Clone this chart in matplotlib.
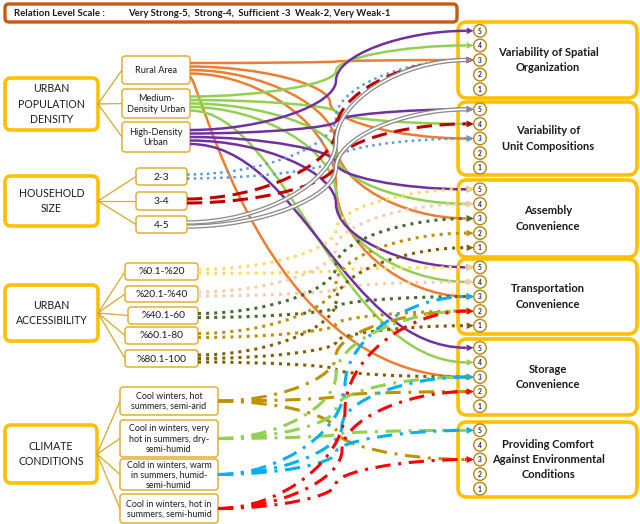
import matplotlib
matplotlib.use('Agg')
import matplotlib.pyplot as plt
from matplotlib.patches import FancyBboxPatch, PathPatch, Circle, Polygon
from matplotlib.path import Path

plt.rcParams['font.family'] = ['Lato', 'DejaVu Sans']

# ---------------------------------------------------------------- data
scale_title = 'Relation Level Scale :'
scale_text = 'Very Strong-5,  Strong-4,  Sufficient -3  Weak-2, Very Weak-1'

group_names = ['URBAN\nPOPULATION\nDENSITY', 'HOUSEHOLD\nSIZE',
               'URBAN\nACCESSIBILITY', 'CLIMATE\nCONDITIONS']
item_labels = [
    ['Rural Area', 'Medium-\nDensity Urban', 'High-Density\nUrban'],
    ['2-3', '3-4', '4-5'],
    ['%0.1-%20', '%20.1-%40', '%40.1-60', '%60.1-80', '%80.1-100'],
    ['Cool winters, hot\nsummers, semi-arid',
     'Cool in winters, very\nhot in summers, dry-\nsemi-humid',
     'Cold in winters, warm\nin summers, humid-\nsemi-humid',
     'Cool in winters, hot in\nsummers, semi-humid'],
]
target_names = ['Variability of Spatial\nOrganization', 'Variability of\nUnit Compositions',
                'Assembly\nConvenience', 'Transportation\nConvenience',
                'Storage\nConvenience', 'Providing Comfort\nAgainst Environmental\nConditions']
levels = [5, 4, 3, 2, 1]

# (target index, relation level) for every item, in item order
rural_area = [(0, 3), (1, 3), (2, 3), (3, 3), (4, 3)]
medium_density = [(0, 4), (1, 4), (2, 4), (3, 4), (4, 4)]
high_density = [(0, 5), (1, 5), (2, 5), (3, 5), (4, 5)]
size_2_3 = [(0, 3), (1, 3)]
size_3_4 = [(0, 3), (1, 4)]
size_4_5 = [(0, 3), (1, 5)]
access_0_20 = [(2, 5), (3, 5)]
access_20_40 = [(2, 4), (3, 4)]
access_40_60 = [(2, 3), (3, 3)]
access_60_80 = [(2, 2), (3, 2)]
access_80_100 = [(2, 1), (3, 1), (4, 3)]
cool_semi_arid = [(3, 2), (4, 2), (5, 3)]
very_hot_dry = [(3, 2), (4, 3), (5, 5)]
warm_humid = [(3, 3), (4, 3), (5, 5)]
hot_semi_humid = [(3, 2), (4, 2), (5, 3)]
relations = [rural_area, medium_density, high_density, size_2_3, size_3_4, size_4_5,
             access_0_20, access_20_40, access_40_60, access_60_80, access_80_100,
             cool_semi_arid, very_hot_dry, warm_humid, hot_semi_humid]

# ---------------------------------------------------------------- layout / style
group_boxes = [(5, 78, 98, 130), (5, 176, 98, 226), (5, 285, 98, 341), (5, 425, 97, 483)]
item_boxes = [
    [(122, 56, 190, 84), (122, 89, 190, 118), (122, 122, 190, 152)],
    [(136, 168, 187, 185), (136, 192, 187, 210), (136, 216, 187, 233)],
    [(125, 263, 198, 280), (125, 286, 198, 302), (128, 307, 198, 324),
     (125, 327, 198, 344), (125, 350, 198, 367)],
    [(120, 387, 218, 415), (120, 420, 218, 457), (120, 459, 218, 490), (120, 494, 218, 523)],
]
target_boxes = [(458, 22, 637, 98), (458, 102, 637, 175), (458, 180, 637, 257),
                (458, 259, 637, 334), (458, 339, 637, 415), (458, 422, 637, 497)]
circle_x, circle_r, level_gap = 480, 6.3, 14.6

dash_dot = (0, (5, 2.5, 1, 2.5))
styles = [
    dict(color='#ed7d31', lw=1.8, ls='-'),
    dict(color='#92d050', lw=1.8, ls='-'),
    dict(color='#7030a0', lw=1.8, ls='-'),
    dict(color='#5b9bd5', lw=1.8, ls=':'),
    dict(color='#c00000', lw=2.2, ls=(0, (5, 2.5))),
    dict(color='#8c8c8c', lw=3.2, ls='-', double=True),
    dict(color='#ffd966', lw=2.2, ls=':'),
    dict(color='#f8cbad', lw=2.2, ls=':'),
    dict(color='#4b6b2f', lw=2.2, ls=':'),
    dict(color='#bf9000', lw=2.2, ls=':'),
    dict(color='#7f6000', lw=2.2, ls=':'),
    dict(color='#bf9000', lw=2.2, ls=dash_dot),
    dict(color='#92d050', lw=2.2, ls=dash_dot),
    dict(color='#00b0f0', lw=2.2, ls=dash_dot),
    dict(color='#ff0000', lw=2.2, ls=dash_dot),
]
start_gap = [3.5, 3.5, 3.5, 4, 4, 4, 4, 4, 4, 4, 3.5, 0, 0, 0, 0]
# long arcs drawn as a single cubic with these control x's
arcs = {(0, 4): (200, 262), (1, 4): (285, 340), (2, 4): (300, 345)}
# x of the vertical "waist" of elbow curves
waist = {(0, 1): 330, (13, 3): 345, (14, 3): 345, (13, 4): 342, (14, 4): 342}
default_waist = 336

fig = plt.figure(figsize=(6.4, 5.24), dpi=100)
ax = fig.add_axes([0, 0, 1, 1])
ax.set_xlim(0, 640)
ax.set_ylim(524, 0)
ax.axis('off')


def draw_box(x0, y0, x1, y1, ec, lw, r, z=1):
    ax.add_patch(FancyBboxPatch((x0, y0), x1 - x0, y1 - y0,
                                boxstyle='round,pad=0,rounding_size=%s' % r,
                                ec=ec, fc='white', lw=lw, zorder=z))


def curve_path(sx, sy, ex, ey, key):
    if key in arcs:
        c1, c2 = arcs[key]
        return Path([(sx, sy), (c1, sy), (c2, ey), (ex, ey)],
                    [Path.MOVETO] + [Path.CURVE4] * 3)
    # curved elbow connector: two cubics meeting vertically at the waist
    xm = waist.get(key, default_waist)
    h = ey - sy
    verts = [(sx, sy), ((sx + xm) / 2, sy), (xm, sy + h / 4), (xm, sy + h / 2),
             (xm, sy + 3 * h / 4), ((ex + xm) / 2, ey), (ex, ey)]
    return Path(verts, [Path.MOVETO] + [Path.CURVE4] * 6)


# header
draw_box(5, 4, 457, 22, '#c55a11', 2.4, 4)
ax.text(14, 13.5, scale_title, fontsize=6.9, fontweight='bold', va='center', color='#1a1a1a')
ax.text(128, 13.5, scale_text, fontsize=6.85, fontweight='bold', va='center', color='#1a1a1a')

# left side
for g, name in enumerate(group_names):
    x0, y0, x1, y1 = group_boxes[g]
    draw_box(x0, y0, x1, y1, '#ffc000', 2.6, 6)
    ax.text((x0 + x1) / 2, (y0 + y1) / 2, name, ha='center', va='center',
            fontsize=7.6, linespacing=1.55, color='#1a1a1a')
    for k, lab in enumerate(item_labels[g]):
        bx0, by0, bx1, by1 = item_boxes[g][k]
        ax.plot([x1, bx0], [(y0 + y1) / 2, (by0 + by1) / 2], color='#d4aa2a', lw=0.9, zorder=1)
        draw_box(bx0, by0, bx1, by1, '#e0b030', 1.1, 3)
        fs = 6.6 if g < 3 else 6.4
        if g == 1 or g == 2:
            fs = 7.4
        ax.text((bx0 + bx1) / 2, (by0 + by1) / 2 + 0.5, lab, ha='center', va='center',
                fontsize=fs, linespacing=1.15, color='#1a1a1a')

# right side
for t, name in enumerate(target_names):
    x0, y0, x1, y1 = target_boxes[t]
    draw_box(x0, y0, x1, y1, '#ffc000', 2.6, 9, z=0.5)
    mid = (y0 + y1) / 2
    ax.text(548, mid, name, ha='center', va='center', fontsize=8.0, fontweight='bold',
            linespacing=1.45, color='#1a1a1a')
    for lv in levels:
        cy = mid + (3 - lv) * level_gap
        ax.add_patch(Circle((circle_x, cy), circle_r, fc='white', ec='#b8860b', lw=1.0, zorder=5))
        ax.text(circle_x, cy + 0.3, str(lv), ha='center', va='center', fontsize=4.8,
                fontweight='bold', color='#1f2a44', zorder=6)

# relation curves
flat_boxes = [b for grp in item_boxes for b in grp]
for i, links in enumerate(relations):
    bx0, by0, bx1, by1 = flat_boxes[i]
    st = styles[i]
    n = len(links)
    for k, (t, lv) in enumerate(links):
        ty0, ty1 = target_boxes[t][1], target_boxes[t][3]
        ey = (ty0 + ty1) / 2 + (3 - lv) * level_gap
        sy = (by0 + by1) / 2 + (k - (n - 1) / 2) * start_gap[i]
        sx = bx1
        ex = circle_x - circle_r - 7
        path = curve_path(sx, sy, ex, ey, (i, t))
        ax.add_patch(PathPatch(path, fill=False, ec=st['color'], lw=st['lw'],
                               linestyle=st['ls'], capstyle='butt', zorder=2))
        if st.get('double'):
            ax.add_patch(PathPatch(path, fill=False, ec='white', lw=1.3, zorder=2.1))
        tip = circle_x - circle_r
        ax.add_patch(Polygon([(tip, ey), (ex, ey - 3.3), (ex, ey + 3.3)],
                             closed=True, fc=st['color'], ec='none', zorder=3))

fig.savefig('out.png', dpi=100)
